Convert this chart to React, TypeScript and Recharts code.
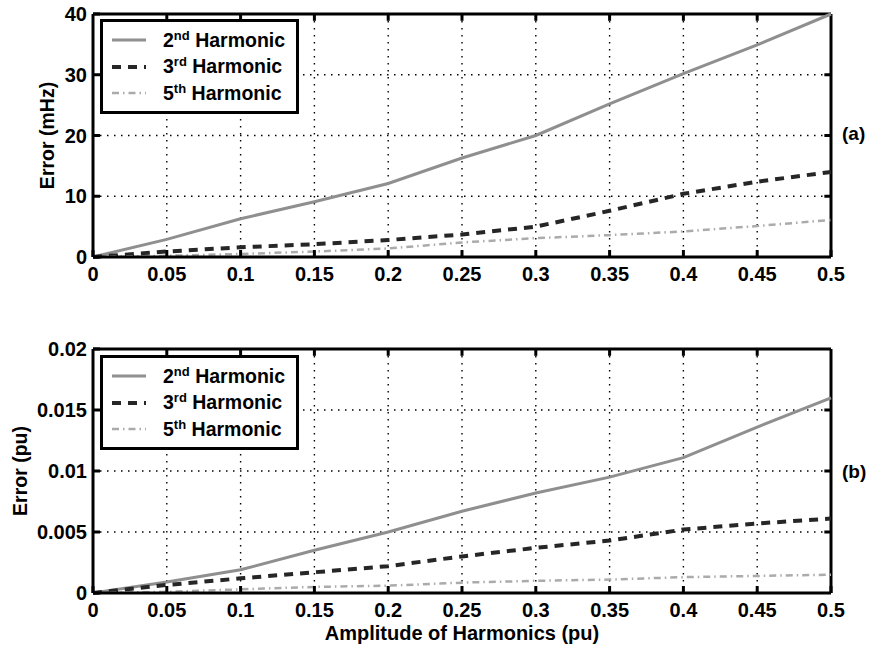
import React from "react";
import { CartesianGrid, Line, LineChart, ReferenceLine, XAxis, YAxis } from "recharts";

const amplitude = [0, 0.05, 0.1, 0.15, 0.2, 0.25, 0.3, 0.35, 0.4, 0.45, 0.5];
const xTicks = [0, 0.05, 0.1, 0.15, 0.2, 0.25, 0.3, 0.35, 0.4, 0.45, 0.5];

// panel (a): frequency error in mHz
const err2Hz = [0, 2.9, 6.3, 9.1, 12.1, 16.3, 20.0, 25.2, 30.2, 34.9, 40.0];
const err3Hz = [0, 0.9, 1.6, 2.1, 2.8, 3.7, 5.0, 7.6, 10.4, 12.4, 14.0];
const err5Hz = [0, 0.2, 0.5, 0.9, 1.4, 2.4, 3.1, 3.6, 4.2, 5.1, 6.1];
const yTicksHz = [0, 10, 20, 30, 40];

// panel (b): error in pu
const err2Pu = [0, 0.0009, 0.0019, 0.0035, 0.005, 0.0067, 0.0082, 0.0095, 0.0111, 0.0136, 0.016];
const err3Pu = [0, 0.00066, 0.0012, 0.0017, 0.0022, 0.003, 0.0037, 0.0043, 0.0052, 0.0057, 0.0061];
const err5Pu = [0, 0.0001, 0.0003, 0.0005, 0.0006, 0.00085, 0.001, 0.0011, 0.0013, 0.0014, 0.0015];
const yTicksPu = [0, 0.005, 0.01, 0.015, 0.02];

const FONT = '"Liberation Sans", Arial, Helvetica, sans-serif';

const series = [
  { key: "h2", ord: "2", sup: "nd", stroke: "#8f8f8f", width: 3, dash: undefined as string | undefined },
  { key: "h3", ord: "3", sup: "rd", stroke: "#262626", width: 4, dash: "9 7" },
  { key: "h5", ord: "5", sup: "th", stroke: "#ababab", width: 2.5, dash: "7 4 1.5 4" },
];

const tableHz = amplitude.map((x, i) => ({ x, h2: err2Hz[i], h3: err3Hz[i], h5: err5Hz[i] }));
const tablePu = amplitude.map((x, i) => ({ x, h2: err2Pu[i], h3: err3Pu[i], h5: err5Pu[i] }));

const fmtX = (v: number) => (v === 0 ? "0" : String(v));

function HarmonicLegend({ top }: { top: number }) {
  return (
    <div
      style={{
        position: "absolute",
        left: 100,
        top,
        height: 84,
        border: "3px solid #000",
        background: "#fff",
        width: 193,
        paddingTop: 5,
        boxSizing: "content-box",
        fontFamily: FONT,
        fontWeight: "bold",
        fontSize: 19.5,
        color: "#000",
      }}
    >
      {series.map((s) => (
        <div key={s.key} style={{ display: "flex", alignItems: "center", height: 26.5 }}>
          <svg width={52} height={20} style={{ marginLeft: 8 }}>
            <line
              x1={1}
              y1={10}
              x2={35}
              y2={10}
              stroke={s.stroke}
              strokeWidth={s.width}
              strokeDasharray={s.dash}
            />
          </svg>
          <span>
            {s.ord}
            <sup style={{ fontSize: 13, verticalAlign: 7, lineHeight: 0 }}>{s.sup}</sup> Harmonic
          </span>
        </div>
      ))}
    </div>
  );
}

function Panel({
  data,
  yTicks,
  yMax,
  yLabel,
  yLabelOffset,
  fmtY,
  height,
  margin,
  xLabel,
  xHeight,
}: {
  data: { x: number; h2: number; h3: number; h5: number }[];
  yTicks: number[];
  yMax: number;
  yLabel: string;
  yLabelOffset: number;
  fmtY: (v: number) => string;
  height: number;
  margin: { top: number; right: number; left: number; bottom: number };
  xLabel?: string;
  xHeight: number;
}) {
  const tickStyle = { fontFamily: FONT, fontWeight: "bold" as const, fontSize: 20, fill: "#000" };
  const frame = { stroke: "#000", strokeWidth: 3 };
  const tickLen = yMax * 0.028;
  return (
    <LineChart width={869} height={height} data={data} margin={margin}>
      <CartesianGrid
        xAxisId="main"
        yAxisId="main"
        stroke="#000"
        strokeWidth={1.4}
        strokeDasharray="1.5 5.5"
      />
      <XAxis
        xAxisId="main"
        dataKey="x"
        type="number"
        domain={[0, 0.5]}
        ticks={xTicks}
        tickFormatter={fmtX}
        tick={tickStyle}
        tickLine={frame}
        tickSize={-7}
        tickMargin={17}
        axisLine={frame}
        height={xHeight}
        label={
          xLabel
            ? {
                value: xLabel,
                position: "insideBottom",
                offset: 3,
                style: { fontFamily: FONT, fontWeight: "bold", fontSize: 20, fill: "#000" },
              }
            : undefined
        }
      />
      <YAxis
        yAxisId="main"
        type="number"
        domain={[0, yMax]}
        ticks={yTicks}
        tickFormatter={fmtY}
        tick={tickStyle}
        tickLine={frame}
        tickSize={-7}
        tickMargin={13}
        width={60}
        axisLine={frame}
        label={{
          value: yLabel,
          angle: -90,
          position: "insideLeft",
          offset: yLabelOffset,
          style: { textAnchor: "middle", fontFamily: FONT, fontWeight: "bold", fontSize: 19.5, fill: "#000" },
        }}
      />
      {/* top and right edges of the box, with inward ticks */}
      <ReferenceLine xAxisId="main" yAxisId="main" y={yMax} stroke="#000" strokeWidth={3} />
      <ReferenceLine xAxisId="main" yAxisId="main" x={0.5} stroke="#000" strokeWidth={3} />
      {xTicks.slice(1, -1).map((t) => (
        <ReferenceLine
          key={"tx" + t}
          xAxisId="main"
          yAxisId="main"
          segment={[
            { x: t, y: yMax },
            { x: t, y: yMax - tickLen },
          ]}
          stroke="#000"
          strokeWidth={3}
        />
      ))}
      {yTicks.slice(1, -1).map((t) => (
        <ReferenceLine
          key={"ty" + t}
          xAxisId="main"
          yAxisId="main"
          segment={[
            { x: 0.5, y: t },
            { x: 0.4955, y: t },
          ]}
          stroke="#000"
          strokeWidth={3}
        />
      ))}
      {series.map((s) => (
        <Line
          key={s.key}
          xAxisId="main"
          yAxisId="main"
          type="linear"
          dataKey={s.key}
          stroke={s.stroke}
          strokeWidth={s.width}
          strokeDasharray={s.dash}
          dot={false}
          isAnimationActive={false}
        />
      ))}
    </LineChart>
  );
}

const sideLabel: React.CSSProperties = {
  position: "absolute",
  left: 842,
  fontFamily: FONT,
  fontWeight: "bold",
  fontSize: 19,
  color: "#000",
};

export default function App() {
  return (
    <div style={{ position: "absolute", left: 0, top: 0, width: 869, height: 646, background: "#fff" }}>
      <div style={{ position: "absolute", left: 0, top: 0 }}>
        <Panel
          data={tableHz}
          yTicks={yTicksHz}
          yMax={40}
          yLabel="Error (mHz)"
          yLabelOffset={14}
          fmtY={(v) => String(v)}
          height={300}
          margin={{ top: 14, right: 38, left: 33, bottom: 13 }}
          xHeight={30}
        />
      </div>
      <div style={{ position: "absolute", left: 0, top: 300 }}>
        <Panel
          data={tablePu}
          yTicks={yTicksPu}
          yMax={0.02}
          yLabel="Error (pu)"
          yLabelOffset={-13}
          fmtY={(v) => (v === 0 ? "0" : String(v))}
          height={346}
          margin={{ top: 49, right: 38, left: 33, bottom: 3 }}
          xHeight={50}
          xLabel="Amplitude of Harmonics (pu)"
        />
      </div>
      <HarmonicLegend top={19} />
      <HarmonicLegend top={355} />
      <div style={{ ...sideLabel, top: 123 }}>(a)</div>
      <div style={{ ...sideLabel, top: 461 }}>(b)</div>
    </div>
  );
}
